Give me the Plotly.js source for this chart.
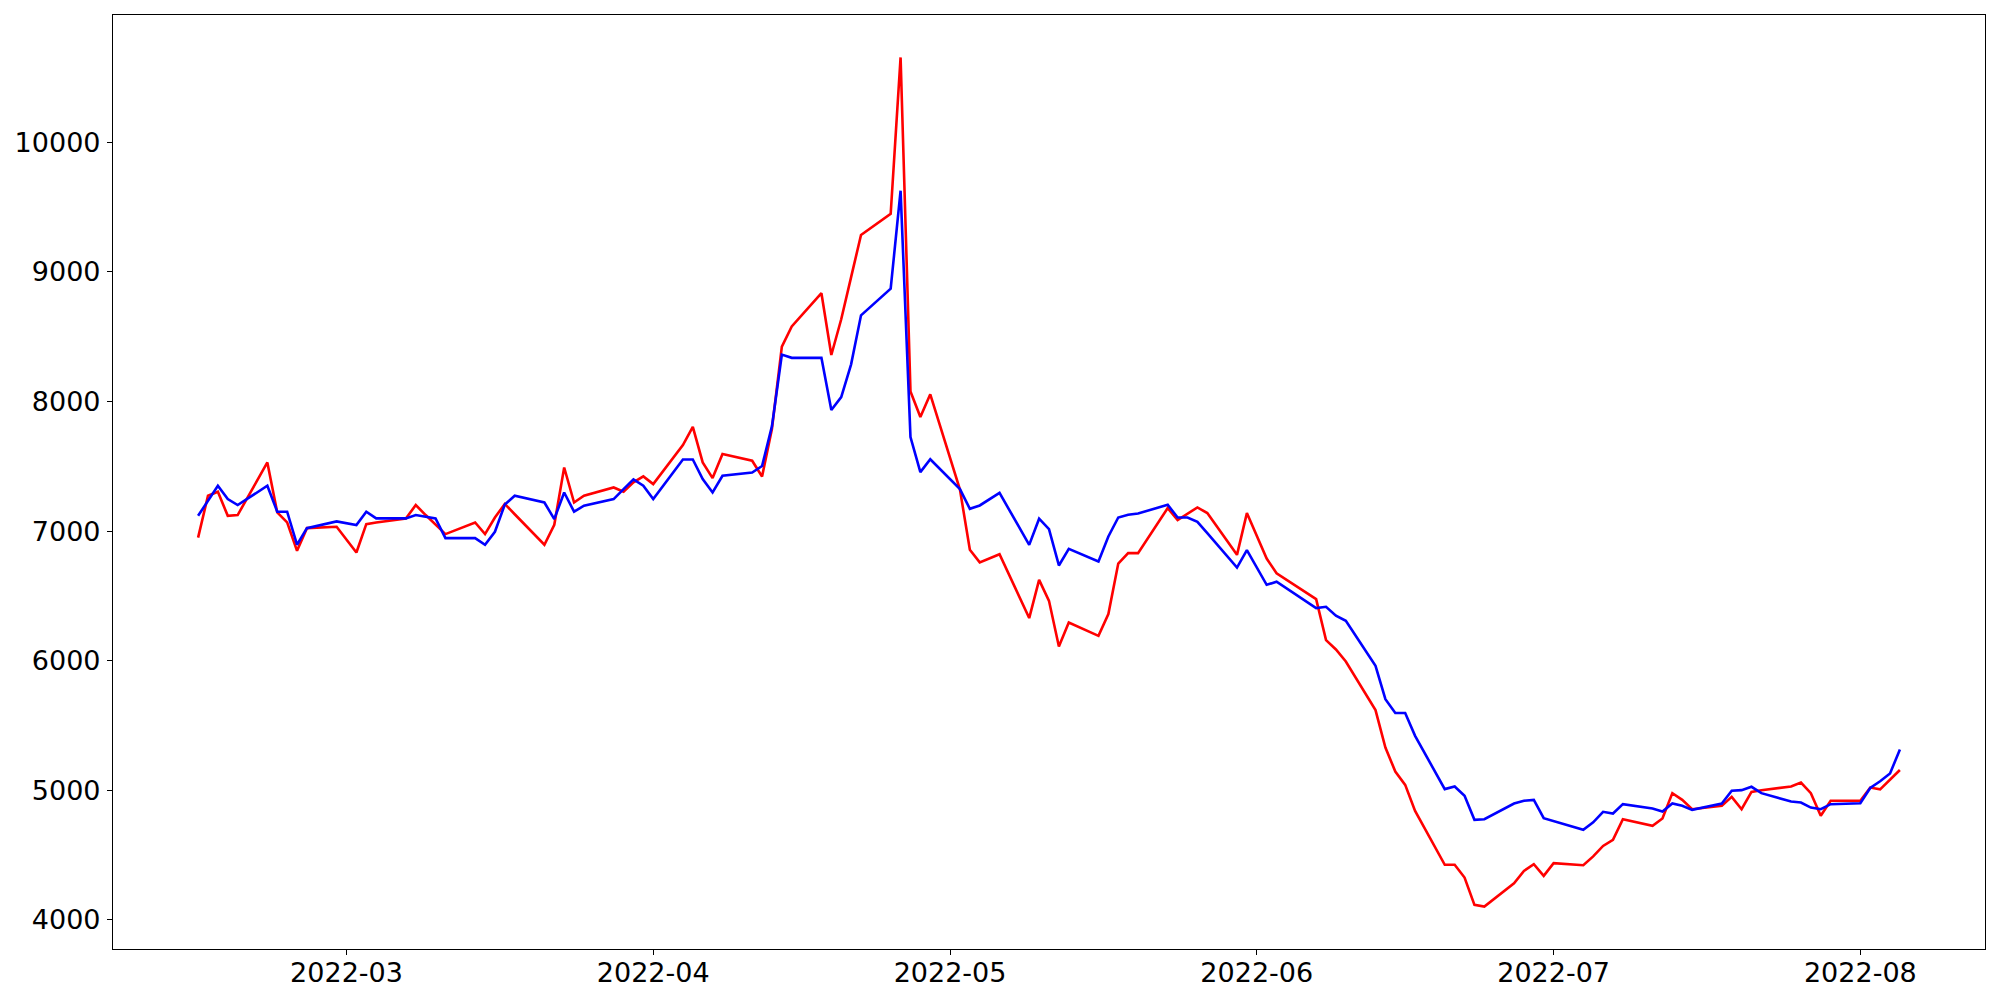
<!DOCTYPE html>
<html>
<head>
<meta charset="utf-8">
<script src="https://cdn.plot.ly/plotly-3.0.1.min.js"></script>
<style>
  html, body { margin: 0; padding: 0; background: #ffffff; }
  #chart { width: 2000px; height: 1000px; }
</style>
</head>
<body>
<div id="chart"></div>
<script>
// Trading dates (shared by both series)
const dates = [
  "2022-02-14","2022-02-15","2022-02-16","2022-02-17","2022-02-18",
  "2022-02-21","2022-02-22","2022-02-23","2022-02-24","2022-02-25",
  "2022-02-28","2022-03-02","2022-03-03","2022-03-04",
  "2022-03-07","2022-03-08","2022-03-09","2022-03-10","2022-03-11",
  "2022-03-14","2022-03-15","2022-03-16","2022-03-17","2022-03-18",
  "2022-03-21","2022-03-22","2022-03-23","2022-03-24","2022-03-25",
  "2022-03-28","2022-03-29","2022-03-30","2022-03-31","2022-04-01",
  "2022-04-04","2022-04-05","2022-04-06","2022-04-07","2022-04-08",
  "2022-04-11","2022-04-12","2022-04-13","2022-04-14","2022-04-15",
  "2022-04-18","2022-04-19","2022-04-20","2022-04-21","2022-04-22",
  "2022-04-25","2022-04-26","2022-04-27","2022-04-28","2022-04-29",
  "2022-05-02","2022-05-03","2022-05-04","2022-05-06",
  "2022-05-09","2022-05-10","2022-05-11","2022-05-12","2022-05-13",
  "2022-05-16","2022-05-17","2022-05-18","2022-05-19","2022-05-20",
  "2022-05-23","2022-05-24","2022-05-25","2022-05-26","2022-05-27",
  "2022-05-30","2022-05-31","2022-06-02","2022-06-03",
  "2022-06-07","2022-06-08","2022-06-09","2022-06-10",
  "2022-06-13","2022-06-14","2022-06-15","2022-06-16","2022-06-17",
  "2022-06-20","2022-06-21","2022-06-22","2022-06-23","2022-06-24",
  "2022-06-27","2022-06-28","2022-06-29","2022-06-30","2022-07-01",
  "2022-07-04","2022-07-05","2022-07-06","2022-07-07","2022-07-08",
  "2022-07-11","2022-07-12","2022-07-13","2022-07-14","2022-07-15",
  "2022-07-18","2022-07-19","2022-07-20","2022-07-21","2022-07-22",
  "2022-07-25","2022-07-26","2022-07-27","2022-07-28","2022-07-29",
  "2022-08-01","2022-08-02","2022-08-03","2022-08-04","2022-08-05"
];

// Red series
const redValues = [
  6950, 7273, 7304, 7118, 7124,
  7530, 7144, 7067, 6848, 7023,
  7034, 6835, 7054, 7067,
  7098, 7201, 7124, 7047, 6977,
  7067, 6977, 7105, 7210, 7130,
  6895, 7049, 7491, 7221, 7273,
  7337, 7304, 7376, 7422, 7363,
  7664, 7805, 7530, 7409, 7595,
  7543, 7421, 7790, 8423, 8580,
  8836, 8359, 8635, 8960, 9285,
  9448, 10655, 8078, 7880, 8056,
  7320, 6856, 6759, 6822,
  6329, 6624, 6462, 6110, 6295,
  6192, 6360, 6750, 6830, 6830,
  7178, 7085, 7131, 7183, 7139,
  6817, 7139, 6788, 6675,
  6475, 6159, 6087, 5994,
  5619, 5330, 5145, 5042, 4841,
  4425, 4425, 4327, 4116, 4103,
  4283, 4378, 4430, 4340, 4438,
  4422, 4490, 4571, 4618, 4777,
  4726, 4782, 4978, 4926, 4854,
  4880, 4949, 4854, 4988, 5001,
  5029, 5060, 4978, 4803, 4919,
  4920, 5021, 5007, 5080, 5157
];

// Blue series
const blueValues = [
  7118, 7234, 7350, 7247, 7201,
  7350, 7150, 7150, 6895, 7023,
  7075, 7047, 7150, 7098,
  7098, 7124, 7111, 7098, 6946,
  6946, 6895, 6995, 7205, 7273,
  7221, 7093, 7298, 7150, 7196,
  7247, 7324, 7399, 7350, 7247,
  7553, 7553, 7402, 7298, 7427,
  7452, 7502, 7810, 8362, 8337,
  8337, 7934, 8034, 8287, 8665,
  8871, 9627, 7725, 7455, 7554,
  7324, 7172, 7198, 7295,
  6894, 7096, 7016, 6735, 6863,
  6766, 6959, 7105, 7126, 7136,
  7203, 7105, 7105, 7072, 6985,
  6719, 6854, 6586, 6609,
  6406, 6416, 6347, 6308,
  5961, 5703, 5596, 5596, 5420,
  5009, 5029, 4957, 4772, 4777,
  4898, 4919, 4926, 4785, 4762,
  4696, 4753, 4834, 4821, 4893,
  4859, 4836, 4898, 4880, 4849,
  4898, 4996, 5001, 5027, 4978,
  4913, 4906, 4867, 4854, 4893,
  4900, 5018, 5070, 5130, 5314
];

const yTicks = [4000, 5000, 6000, 7000, 8000, 9000, 10000];
const xTicks = ["2022-03-01","2022-04-01","2022-05-01","2022-06-01","2022-07-01","2022-08-01"];
const xTickText = ["2022-03","2022-04","2022-05","2022-06","2022-07","2022-08"];

// matplotlib-like 5% data margins
const allY = redValues.concat(blueValues);
const yMin = Math.min(...allY), yMax = Math.max(...allY);
const yPad = (yMax - yMin) * 0.05;
const t0 = new Date(dates[0] + "T00:00:00Z").getTime();
const t1 = new Date(dates[dates.length - 1] + "T00:00:00Z").getTime();
const tPad = (t1 - t0) * 0.05;
function iso(t) { return new Date(t).toISOString().replace("T", " ").slice(0, 19); }

const traces = [
  { x: dates, y: redValues, type: "scatter", mode: "lines",
    line: { color: "#ff0000", width: 2.6 }, hoverinfo: "skip", showlegend: false },
  { x: dates, y: blueValues, type: "scatter", mode: "lines",
    line: { color: "#0000ff", width: 2.6 }, hoverinfo: "skip", showlegend: false }
];

const tickFont = { family: "DejaVu Sans", size: 27, color: "#000000" };

const layout = {
  width: 2000, height: 1000,
  paper_bgcolor: "#ffffff", plot_bgcolor: "#ffffff",
  margin: { l: 113, r: 15, t: 15, b: 51, pad: 0 },
  showlegend: false,
  xaxis: {
    type: "date",
    range: [iso(t0 - tPad), iso(t1 + tPad)],
    tickmode: "array", tickvals: xTicks, ticktext: xTickText,
    ticks: "outside", ticklen: 5, tickwidth: 1.1, tickcolor: "#000000",
    showline: true, linecolor: "#000000", linewidth: 1.1, mirror: true,
    showgrid: false, zeroline: false,
    tickfont: tickFont, ticklabelstandoff: -6
  },
  yaxis: {
    range: [yMin - yPad, yMax + yPad],
    tickmode: "array", tickvals: yTicks, ticktext: yTicks.map(String),
    ticks: "outside", ticklen: 5, tickwidth: 1.1, tickcolor: "#000000",
    showline: true, linecolor: "#000000", linewidth: 1.1, mirror: true,
    showgrid: false, zeroline: false,
    tickfont: tickFont, ticklabelstandoff: 1
  }
};

Plotly.newPlot("chart", traces, layout, { displayModeBar: false, staticPlot: true });
</script>
</body>
</html>
